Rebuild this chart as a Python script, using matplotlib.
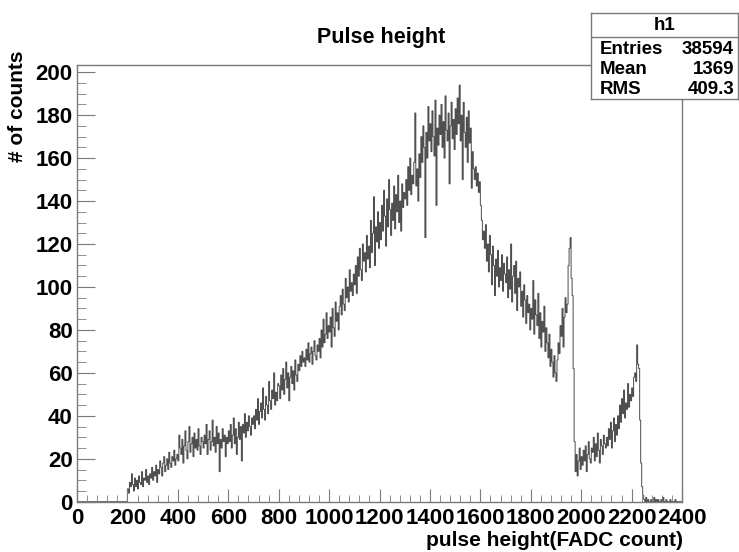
import numpy as np
import matplotlib.pyplot as plt

plt.rcParams['font.family'] = ['Liberation Sans', 'DejaVu Sans']
plt.rcParams['font.weight'] = 'bold'

# FADC pulse height spectrum, 600 bins of width 4 between 0 and 2400
bin_width = 4
x_min, x_max = 0, 2400

counts_0000 = [0] * 50
counts_0200 = [6, 4, 9, 7, 13, 8, 5, 11, 7, 10, 6, 12, 9, 8, 14, 7, 11, 10, 15, 9, 12, 8, 13, 11, 16]
counts_0300 = [10, 14, 12, 17, 9, 15, 13, 19, 16, 12, 18, 21, 14, 17, 20, 15, 23, 18, 16, 21, 19, 24, 17, 20, 22]
counts_0400 = [19, 31, 25, 22, 29, 18, 26, 33, 24, 20, 28, 35, 23, 27, 30, 21, 32, 25, 29, 24, 34, 26, 22, 30, 28]
counts_0500 = [25, 31, 27, 36, 22, 29, 33, 24, 28, 38, 26, 30, 23, 35, 27, 32, 14, 29, 25, 34, 28, 31, 21, 30, 27]
counts_0600 = [33, 28, 36, 25, 31, 39, 27, 34, 22, 30, 37, 29, 35, 19, 36, 32, 41, 30, 37, 33, 40, 35, 31, 39, 36]
counts_0700 = [40, 34, 43, 38, 48, 36, 42, 46, 39, 53, 43, 38, 49, 45, 41, 56, 47, 43, 52, 48, 60, 45, 51, 47, 55]
counts_0800 = [54, 48, 59, 52, 62, 50, 57, 65, 53, 60, 47, 58, 63, 55, 61, 52, 66, 59, 56, 64, 61, 68, 63, 70, 65]
counts_0900 = [67, 63, 71, 66, 74, 65, 69, 72, 64, 70, 75, 68, 66, 73, 70, 76, 67, 80, 72, 85, 74, 78, 88, 76, 82]
counts_1000 = [79, 86, 72, 90, 81, 77, 93, 84, 88, 80, 91, 96, 87, 99, 92, 89, 104, 95, 100, 93, 108, 98, 102, 96, 106]
counts_1100 = [101, 110, 97, 114, 105, 118, 108, 103, 120, 112, 116, 107, 124, 113, 119, 109, 131, 116, 125, 142, 110, 128, 121, 135, 118]
counts_1200 = [130, 122, 138, 126, 145, 133, 119, 141, 128, 150, 136, 124, 139, 131, 147, 127, 143, 135, 152, 130, 140, 126, 148, 137, 144]
counts_1300 = [141, 150, 138, 156, 145, 160, 143, 152, 148, 158, 181, 147, 155, 140, 162, 151, 170, 158, 175, 165, 123, 172, 160, 184, 168]
counts_1400 = [176, 163, 182, 170, 161, 187, 138, 174, 166, 180, 171, 185, 165, 177, 160, 189, 173, 168, 181, 148, 175, 186, 169, 178, 164]
counts_1500 = [183, 171, 188, 176, 194, 168, 180, 150, 186, 172, 165, 179, 158, 182, 167, 174, 146, 163, 155, 150, 156, 147, 153, 144, 149]
counts_1600 = [138, 131, 122, 126, 118, 129, 112, 120, 107, 124, 115, 101, 119, 110, 96, 113, 105, 117, 100, 109, 103, 115, 98, 111, 106]
counts_1700 = [102, 114, 95, 108, 99, 120, 93, 105, 110, 97, 112, 89, 104, 100, 107, 91, 98, 86, 101, 94, 83, 96, 88, 92, 80]
counts_1800 = [90, 85, 103, 78, 94, 87, 82, 97, 76, 88, 72, 84, 79, 91, 70, 81, 74, 67, 78, 63, 71, 65, 58, 68, 60]
counts_1900 = [56, 66, 74, 69, 82, 77, 90, 72, 86, 95, 88, 92, 110, 118, 123, 104, 96, 62, 28, 14, 22, 12, 19, 25, 15]
counts_2000 = [21, 17, 24, 19, 26, 14, 22, 28, 20, 18, 25, 23, 30, 19, 27, 21, 32, 24, 18, 29, 26, 22, 31, 27, 25]
counts_2100 = [30, 26, 34, 29, 37, 25, 33, 39, 28, 36, 31, 40, 34, 45, 37, 48, 41, 52, 39, 46, 43, 55, 44, 50, 47]
counts_2200 = [53, 49, 58, 60, 56, 73, 64, 62, 38, 18, 7, 3, 1, 0, 2, 0, 1, 0, 0, 1, 0, 0, 2, 0, 1]
counts_2300 = [0, 1, 0, 0, 1, 0, 2, 0, 0, 1, 0, 0, 0, 1, 0, 0, 0, 0, 1, 0, 0, 0, 0, 0, 0]

counts = np.array(counts_0000 + counts_0200 + counts_0300 + counts_0400 + counts_0500
                  + counts_0600 + counts_0700 + counts_0800 + counts_0900 + counts_1000
                  + counts_1100 + counts_1200 + counts_1300 + counts_1400 + counts_1500
                  + counts_1600 + counts_1700 + counts_1800 + counts_1900 + counts_2000
                  + counts_2100 + counts_2200 + counts_2300)
edges = np.arange(x_min, x_max + bin_width, bin_width)

stats_labels = ['Entries', 'Mean', 'RMS']
stats_values = ['38594', '1369', '409.3']

frame_col = '#7a7a7a'

fig = plt.figure(figsize=(7.39, 5.52), dpi=100)
ax = fig.add_axes([0.1042, 0.0911, 0.8187, 0.7917])

ax.stairs(counts, edges, color='#4a4a4a', linewidth=0.7)

ax.set_xlim(x_min, x_max)
ax.set_ylim(0, 203.5)
ax.set_xticks(np.arange(0, 2401, 200))
ax.set_xticks(np.arange(0, 2401, 40), minor=True)
ax.set_yticks(np.arange(0, 201, 20))
ax.set_yticks(np.arange(0, 201, 5), minor=True)

ax.tick_params(which='both', direction='in', colors=frame_col, labelcolor='black',
               top=False, right=False, labelsize=16)
ax.tick_params(axis='x', which='major', length=9.5, pad=4.5)
ax.tick_params(axis='x', which='minor', length=5)
ax.tick_params(axis='y', which='major', length=13, pad=3)
ax.tick_params(axis='y', which='minor', length=6.5)
for lab in ax.get_xticklabels() + ax.get_yticklabels():
    lab.set_fontweight('bold')
for sp in ax.spines.values():
    sp.set_color(frame_col)
    sp.set_linewidth(1.0)

fig.text(0.516, 1 - 38 / 552, 'Pulse height', ha='center', va='center',
         fontsize=15.5, fontweight='bold')
fig.text(18 / 739, 1 - 50 / 552, '# of counts', rotation=90, ha='center', va='top',
         fontsize=15, fontweight='bold')
fig.text(683 / 739, 1 - 540 / 552, 'pulse height(FADC count)', ha='right', va='center',
         fontsize=15, fontweight='bold')

# statistics box in the top right corner
sbox = fig.add_axes([591 / 739, 1 - 99 / 552, 147 / 739, 86 / 552])
sbox.set_xticks([])
sbox.set_yticks([])
sbox.set_xlim(0, 1)
sbox.set_ylim(0, 1)
for sp in sbox.spines.values():
    sp.set_color(frame_col)
    sp.set_linewidth(1.0)
sbox.axhline(1 - 24 / 86, color=frame_col, linewidth=1.0)
sbox.text(0.5, 1 - 12 / 86, 'h1', ha='center', va='center', fontsize=13.5, fontweight='bold')
for i, (lab, val) in enumerate(zip(stats_labels, stats_values)):
    yy = 1 - (37 + 19.5 * i) / 86
    sbox.text(9 / 147, yy, lab, ha='left', va='center', fontsize=13.5, fontweight='bold')
    sbox.text(143 / 147, yy, val, ha='right', va='center', fontsize=13.5, fontweight='bold')

fig.savefig('out.png', dpi=100)
